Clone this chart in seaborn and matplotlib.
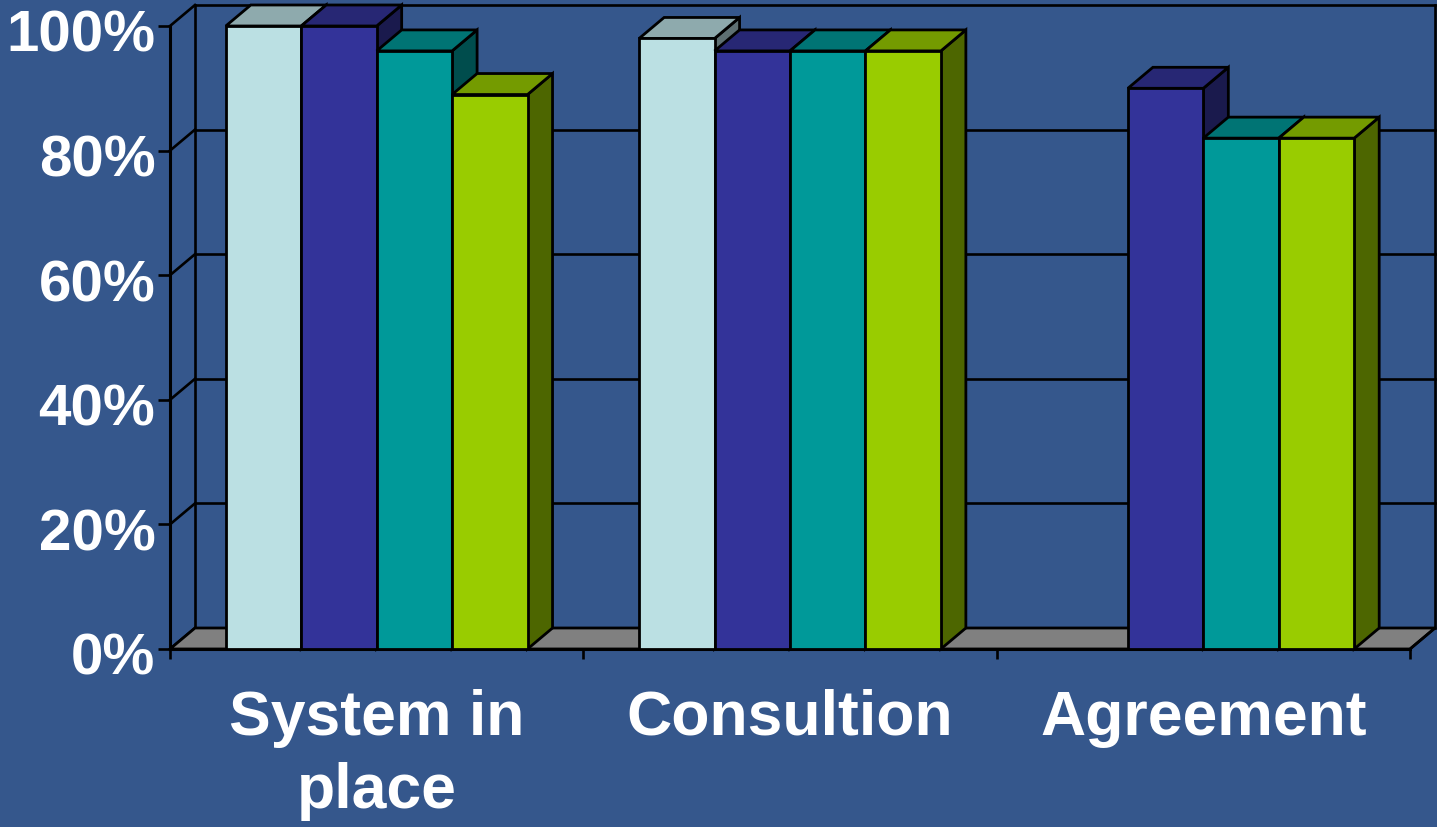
import matplotlib
matplotlib.use("Agg")
import matplotlib.pyplot as plt
import matplotlib.transforms as mtransforms
import seaborn as sns
import pandas as pd
from matplotlib.patches import Polygon, Rectangle
from matplotlib.colors import to_rgb

# ---------------- data ----------------
categories = ["System in\nplace", "Consultion", "Agreement"]
series = ["Series 1", "Series 2", "Series 3", "Series 4"]
system_in_place = [100, 100, 96, 89]
consultion = [98, 96, 96, 96]
agreement = [None, 90, 82, 82]
colors = ["#BBE0E3", "#333399", "#009999", "#99CC00"]
y_ticks = [0, 20, 40, 60, 80, 100]
y_tick_labels = ["0%", "20%", "40%", "60%", "80%", "100%"]

BG = "#35578C"

rows = []
for cat, vals in zip(categories, [system_in_place, consultion, agreement]):
    for s, v in zip(series, vals):
        if v is not None:
            rows.append({"category": cat, "series": s, "value": v})
df = pd.DataFrame(rows)

plt.rcParams["font.family"] = ["Liberation Sans", "DejaVu Sans"]
plt.rcParams["font.weight"] = "bold"

W, H = 1437, 828
fig = plt.figure(figsize=(W / 100, H / 100), dpi=100, facecolor=BG)
ax_l, ax_r, ax_b, ax_t = 170, 1410, 650, 27
ax = fig.add_axes([ax_l / W, (H - ax_b) / H, (ax_r - ax_l) / W, (ax_b - ax_t) / H])
ax.patch.set_visible(False)

EDGE_LW = 2.0
sns.barplot(data=df, x="category", y="value", hue="series", order=categories,
            hue_order=series, palette=colors, width=0.73, saturation=1,
            edgecolor="black", linewidth=EDGE_LW, legend=False, ax=ax, errorbar=None)

ax.set_xlim(-0.5, 2.5)
ax.set_ylim(0, 100)
ax.set_xlabel("")
ax.set_ylabel("")

# depth offset (pixels -> data units)
DX_PX, DY_PX = 25, 21
dx = DX_PX * 3.0 / (ax_r - ax_l)
dy = DY_PX * 100.0 / (ax_b - ax_t)

bars = sorted([p for p in ax.patches if isinstance(p, Rectangle) and p.get_height() > 0],
              key=lambda p: p.get_x())

# floor
floor = Polygon([(-0.5, 0), (2.5, 0), (2.5 + dx, dy), (-0.5 + dx, dy)], closed=True,
                facecolor="#808080", edgecolor="black", lw=EDGE_LW, zorder=1.5, clip_on=False)
ax.add_patch(floor)

line_kw = dict(color="black", lw=1.9, clip_on=False, solid_capstyle="projecting")
# back wall gridlines
for v in y_ticks[1:]:
    ax.plot([-0.5 + dx, 2.5 + dx], [v + dy, v + dy], zorder=1, **line_kw)
# left wall diagonals
for v in y_ticks:
    ax.plot([-0.5, -0.5 + dx], [v, v + dy], zorder=1, **line_kw)
# back wall verticals
ax.plot([-0.5 + dx, -0.5 + dx], [dy, 100 + dy], zorder=1, **line_kw)
ax.plot([2.5 + dx, 2.5 + dx], [dy, 100 + dy], zorder=1, **line_kw)
ax.plot([2.5, 2.5 + dx], [0, dy], zorder=1.6, **line_kw)

# 3D faces of bars
for i, p in enumerate(bars):
    z = 3 + i * 0.1
    x0 = p.get_x()
    x1 = x0 + p.get_width()
    h = p.get_height()
    base = to_rgb(p.get_facecolor())
    top_c = tuple(c * 0.76 for c in base)
    side_c = tuple(c * 0.5 for c in base)
    side = Polygon([(x1, 0), (x1 + dx, dy), (x1 + dx, h + dy), (x1, h)], closed=True,
                   facecolor=side_c, edgecolor="black", lw=EDGE_LW, zorder=z, clip_on=False,
                   joinstyle="miter")
    top = Polygon([(x0, h), (x1, h), (x1 + dx, h + dy), (x0 + dx, h + dy)], closed=True,
                  facecolor=top_c, edgecolor="black", lw=EDGE_LW, zorder=z + 0.01, clip_on=False,
                  joinstyle="miter")
    ax.add_patch(side)
    ax.add_patch(top)
    p.set_zorder(z + 0.02)
    p.set_clip_on(False)

# spines
for s in ["top", "right"]:
    ax.spines[s].set_visible(False)
for s in ["left", "bottom"]:
    ax.spines[s].set_color("black")
    ax.spines[s].set_linewidth(2.2)
    ax.spines[s].set_zorder(2)

ax.set_yticks(y_ticks)
ax.set_yticklabels(y_tick_labels)
ax.tick_params(axis="y", length=8.6, width=1.9, color="black", pad=2,
               labelsize=42, labelcolor="white")
ax.set_xticks([0, 1, 2])
ax.set_xticklabels(categories, linespacing=1.3)
ax.set_xticks([-0.5, 0.5, 1.5, 2.5], minor=True)
ax.tick_params(axis="x", which="major", length=0, pad=28, labelsize=45, labelcolor="white")
ax.tick_params(axis="x", which="minor", length=7.5, width=1.9, color="black")
shift = mtransforms.ScaledTranslation(0, -4 / 100, fig.dpi_scale_trans)
for t in ax.get_yticklabels():
    t.set_fontweight("bold")
    t.set_transform(t.get_transform() + shift)
for t in ax.get_xticklabels():
    t.set_fontweight("bold")

fig.savefig("out.png", dpi=100, facecolor=BG)
